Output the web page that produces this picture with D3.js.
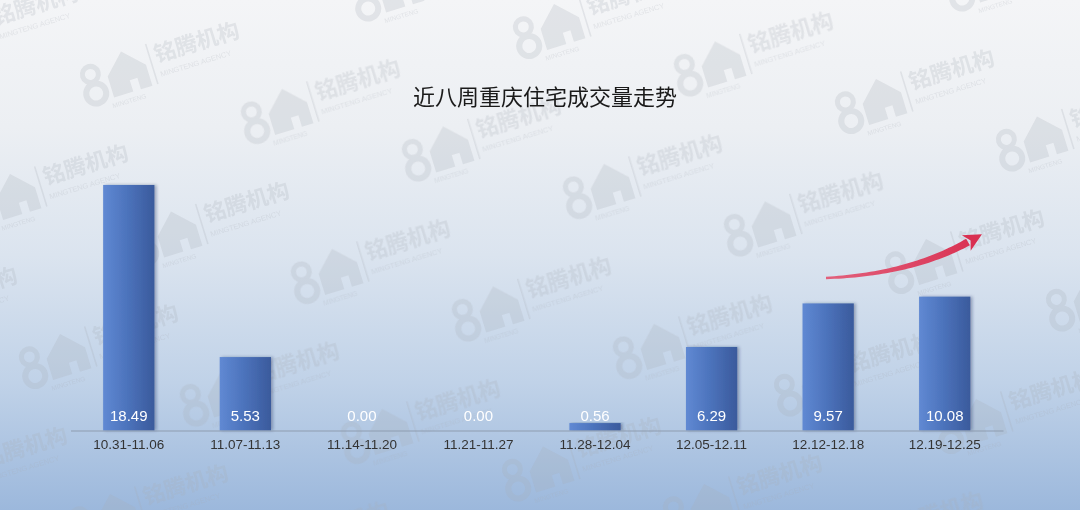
<!DOCTYPE html>
<html>
<head>
<meta charset="utf-8">
<script src="https://cdn.jsdelivr.net/npm/d3@7/dist/d3.min.js"></script>
<style>
html,body{margin:0;padding:0;overflow:hidden;background:#fff;}
svg{display:block;}
</style>
</head>
<body>
<svg id="chart" width="1080" height="510"></svg>
<script>
const title = "近八周重庆住宅成交量走势";
const categories = ["10.31-11.06","11.07-11.13","11.14-11.20","11.21-11.27","11.28-12.04","12.05-12.11","12.12-12.18","12.19-12.25"];
const values = [18.49, 5.53, 0.00, 0.00, 0.56, 6.29, 9.57, 10.08];
const valueLabels = ["18.49","5.53","0.00","0.00","0.56","6.29","9.57","10.08"];

const W = 1080, H = 510;
const svg = d3.select("#chart");
const defs = svg.append("defs");

// background gradient
const bg = defs.append("linearGradient").attr("id","bg").attr("x1",0).attr("y1",0).attr("x2",0).attr("y2",1);
[[0,"#f4f5f7"],[0.25,"#eceff3"],[0.5,"#dbe4ef"],[0.75,"#c0d2e8"],[1,"#9cb8dc"]].forEach(s=>bg.append("stop").attr("offset",s[0]).attr("stop-color",s[1]));
svg.append("rect").attr("width",W).attr("height",H).attr("fill","url(#bg)");

// bar gradient
const bg2 = defs.append("linearGradient").attr("id","bar").attr("x1",0).attr("y1",0).attr("x2",1).attr("y2",0);
[[0,"#6089d3"],[0.45,"#4d74bd"],[1,"#3a5a9c"]].forEach(s=>bg2.append("stop").attr("offset",s[0]).attr("stop-color",s[1]));

const sh = defs.append("filter").attr("id","shadow").attr("x","-20%").attr("y","-5%").attr("width","150%").attr("height","110%");
sh.append("feDropShadow").attr("dx",2).attr("dy",0).attr("stdDeviation",1.5).attr("flood-color","#1c2f55").attr("flood-opacity",0.35);

// arrow gradient
const ag = defs.append("linearGradient").attr("id","arr").attr("gradientUnits","userSpaceOnUse")
  .attr("x1",826).attr("y1",278).attr("x2",982).attr("y2",232);
[[0,"#e2607c"],[1,"#d92f50"]].forEach(s=>ag.append("stop").attr("offset",s[0]).attr("stop-color",s[1]));

// watermarks (decorative tiling)
const wm = svg.append("g").attr("fill","#a9aeb6").attr("opacity",0.24);
const u = [161, 37.5], v = [50, 160], o = [93, 83];
for (let j=-4;j<=4;j++){
  for (let i=-8;i<=8;i++){
    const x = o[0]+i*u[0]+j*v[0], y = o[1]+i*u[1]+j*v[1];
    if (x<-200||x>W+60||y<-60||y>H+60) continue;
    const g = wm.append("g").attr("transform",`translate(${x},${y}) rotate(-17)`);
    g.append("circle").attr("cx",0).attr("cy",-9).attr("r",8).attr("fill","none").attr("stroke","#a9aeb6").attr("stroke-width",5);
    g.append("circle").attr("cx",0).attr("cy",11).attr("r",10).attr("fill","none").attr("stroke","#a9aeb6").attr("stroke-width",6);
    g.append("path").attr("d","M16,-2 L36,-22 L56,-2 L56,20 L44,20 L44,8 L36,8 L36,20 L16,20 Z");
    g.append("rect").attr("x",61).attr("y",-22).attr("width",1.5).attr("height",42);
    g.append("text").attr("x",67).attr("y",-1).attr("font-family","Noto Sans CJK SC").attr("font-size",22).attr("font-weight",700).text("铭腾机构");
    g.append("text").attr("x",67).attr("y",14).attr("font-family","Liberation Sans").attr("font-size",7.5).text("MINGTENG AGENCY");
    g.append("text").attr("x",12).attr("y",30).attr("font-family","Liberation Sans").attr("font-size",6.5).text("MINGTENG");
  }
}

// scales
const x = d3.scaleBand().domain(categories).range([70.5, 1003]).paddingInner(0.56).paddingOuter(0.28);
const y = d3.scaleLinear().domain([0, 20]).range([430.5, 430.5 - 20*13.28]);

// bars
svg.append("g").selectAll("rect").data(values).join("rect")
  .attr("x",(d,i)=>x(categories[i]))
  .attr("width",x.bandwidth())
  .attr("y",d=>y(d))
  .attr("height",d=>y(0)-y(d))
  .attr("fill","url(#bar)")
  .attr("filter","url(#shadow)");

// axis
const axis = svg.append("g").attr("transform",`translate(0,${y(0)})`)
  .call(d3.axisBottom(x).tickSize(0).tickPadding(9));
axis.select(".domain").attr("stroke","#8d9cb0").attr("stroke-width",1.2);
axis.selectAll("text").attr("font-family","Liberation Sans, Arial, sans-serif").attr("font-size",13.5).attr("fill","#333");

// value labels
svg.append("g").selectAll("text").data(values).join("text")
  .attr("x",(d,i)=>x(categories[i])+x.bandwidth()/2)
  .attr("y",y(0)-9.5)
  .attr("text-anchor","middle")
  .attr("font-family","Liberation Sans, Arial, sans-serif")
  .attr("font-size",15)
  .attr("fill","#ffffff")
  .text((d,i)=>valueLabels[i]);

// title
svg.append("text").attr("x",545).attr("y",105).attr("text-anchor","middle")
  .attr("font-family","Noto Sans CJK SC").attr("font-size",22).attr("fill","#1a1a1a").text(title);

// red trend arrow (decorative)
const P0=[826,278], C=[911,274], P2=[968,242];
const N=40;
const up=[], dn=[];
for(let k=0;k<=N;k++){
  const t=k/N;
  const bx=(1-t)*(1-t)*P0[0]+2*(1-t)*t*C[0]+t*t*P2[0];
  const by=(1-t)*(1-t)*P0[1]+2*(1-t)*t*C[1]+t*t*P2[1];
  const dx=2*(1-t)*(C[0]-P0[0])+2*t*(P2[0]-C[0]);
  const dy=2*(1-t)*(C[1]-P0[1])+2*t*(P2[1]-C[1]);
  const L=Math.hypot(dx,dy);
  const nx=-dy/L, ny=dx/L;
  const w=(1.2+2.6*t);
  up.push([bx+nx*w, by+ny*w]); dn.push([bx-nx*w, by-ny*w]);
}
const poly = up.concat(dn.reverse());
svg.append("path").attr("d", d3.line()(poly)+"Z").attr("fill","url(#arr)");
const ex=P2[0], ey=P2[1];
const dxe=P2[0]-C[0], dye=P2[1]-C[1];
const Le=Math.hypot(dxe,dye), tx=dxe/Le, ty=dye/Le, nx2=-ty, ny2=tx;
const tip=[ex+tx*16, ey+ty*16];
const head=[tip,[ex+nx2*9-tx*2, ey+ny2*9-ty*2],[ex+tx*3, ey+ty*3],[ex-nx2*9-tx*2, ey-ny2*9-ty*2]];
svg.append("path").attr("d", d3.line()(head)+"Z").attr("fill","#d92f50");
</script>
</body>
</html>
